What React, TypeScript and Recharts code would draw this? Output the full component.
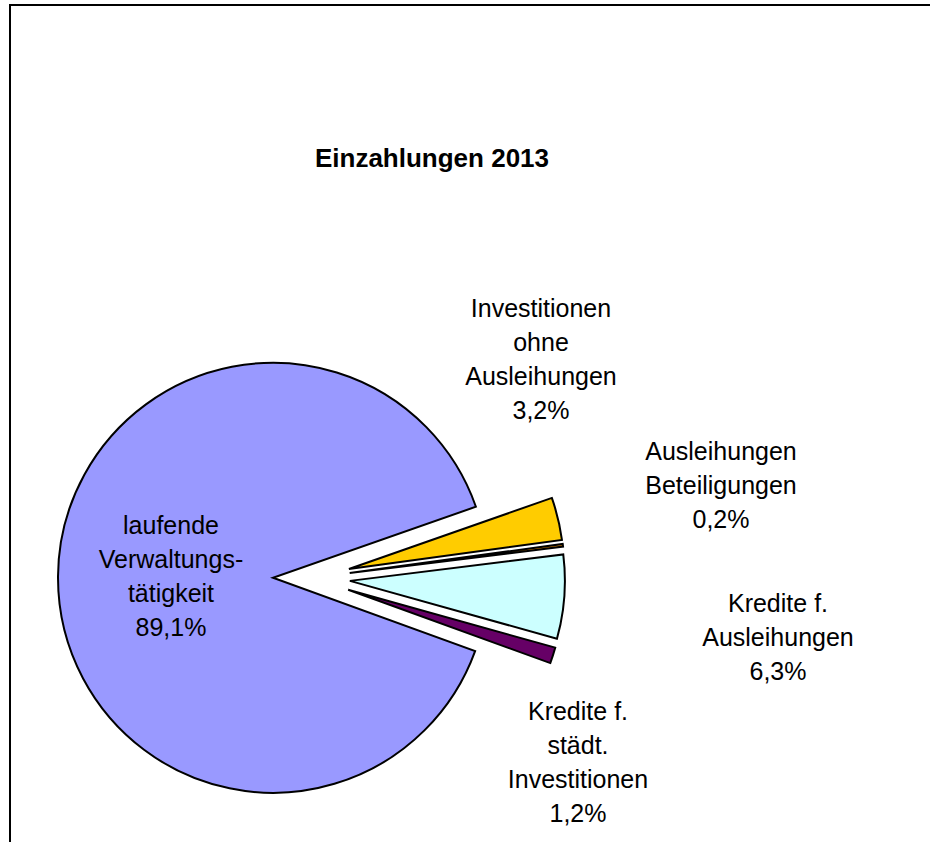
import { Cell, Pie, PieChart } from 'recharts'

// data, clockwise from the top edge of the exploded group
const CATEGORIES: string[][] = [
  ['Investitionen', 'ohne', 'Ausleihungen'],
  ['Ausleihungen', 'Beteiligungen'],
  ['Kredite f.', 'Ausleihungen'],
  ['Kredite f.', 'städt.', 'Investitionen'],
  ['laufende', 'Verwaltungs-', 'tätigkeit'],
]
const SHARES = [3.2, 0.2, 6.3, 1.2, 89.1]
const TITLE = 'Einzahlungen 2013'

// styling
const COLORS = ['#FFCC00', '#FF9900', '#CCFFFF', '#660066', '#9999FF']
// label centre, relative to pie centre
const LABEL_OFFSET: [number, number][] = [
  [229.5, -219.5],
  [409.5, -93],
  [466.5, 59],
  [266.5, 184],
  [-140.5, -2.5],
]
const W = 930
const H = 842
const CX = 311.5
const CY = 578
const R = 215
const EXPLODE = 38.5
const START = 19.3
const FONT = '"Liberation Sans", Arial, sans-serif'
const LINE = 34

const rows = SHARES.map((v, i) => ({ name: CATEGORIES[i].join(' '), value: v }))
const total = SHARES.reduce((a, b) => a + b, 0)

function midAngle(i: number) {
  const before = SHARES.slice(0, i).reduce((a, b) => a + b, 0)
  return START - ((before + SHARES[i] / 2) / total) * 360
}

const fmt = (v: number) => v.toFixed(1).replace('.', ',') + '%'

export default function App() {
  return (
    <div style={{ position: 'absolute', left: 0, top: 0, width: W, height: H, overflow: 'hidden', background: '#fff' }}>
      <div
        style={{
          position: 'absolute',
          left: 9,
          top: 4,
          width: 960,
          height: 900,
          border: '2px solid #000',
        }}
      />
      <div
        style={{
          position: 'absolute',
          left: 0,
          width: 864,
          top: 143,
          textAlign: 'center',
          fontFamily: FONT,
          fontWeight: 'bold',
          fontSize: 26,
          lineHeight: '30px',
        }}
      >
        {TITLE}
      </div>
      <div style={{ position: 'absolute', left: 0, top: 0 }}>
        <PieChart width={W} height={H} margin={{ top: 0, right: 0, bottom: 0, left: 0 }}>
          {rows.map((_, k) => {
            const a = (midAngle(k) * Math.PI) / 180
            const px = CX + EXPLODE * Math.cos(a)
            const py = CY - EXPLODE * Math.sin(a)
            return (
              <Pie
                key={k}
                data={rows}
                dataKey="value"
                nameKey="name"
                cx={px}
                cy={py}
                outerRadius={R}
                startAngle={START}
                endAngle={START - 360}
                isAnimationActive={false}
                labelLine={false}
                label={(p: any) => {
                  if (p.index !== k) return <g />
                  const [dx, dy] = LABEL_OFFSET[k]
                  const lines = [...CATEGORIES[k], fmt(SHARES[k])]
                  const x = CX + dx
                  const y0 = CY + dy - ((lines.length - 1) / 2) * LINE
                  return (
                    <text
                      x={x}
                      y={y0}
                      textAnchor="middle"
                      fontFamily={FONT}
                      fontSize={25}
                      fill="#000"
                    >
                      {lines.map((t, j) => (
                        <tspan key={j} x={x} y={y0 + j * LINE} dominantBaseline="central">
                          {t}
                        </tspan>
                      ))}
                    </text>
                  )
                }}
              >
                {rows.map((_, i) => (
                  <Cell
                    key={i}
                    fill={i === k ? COLORS[i] : 'none'}
                    stroke={i === k ? '#000' : 'none'}
                    strokeWidth={2}
                  />
                ))}
              </Pie>
            )
          })}
        </PieChart>
      </div>
    </div>
  )
}
